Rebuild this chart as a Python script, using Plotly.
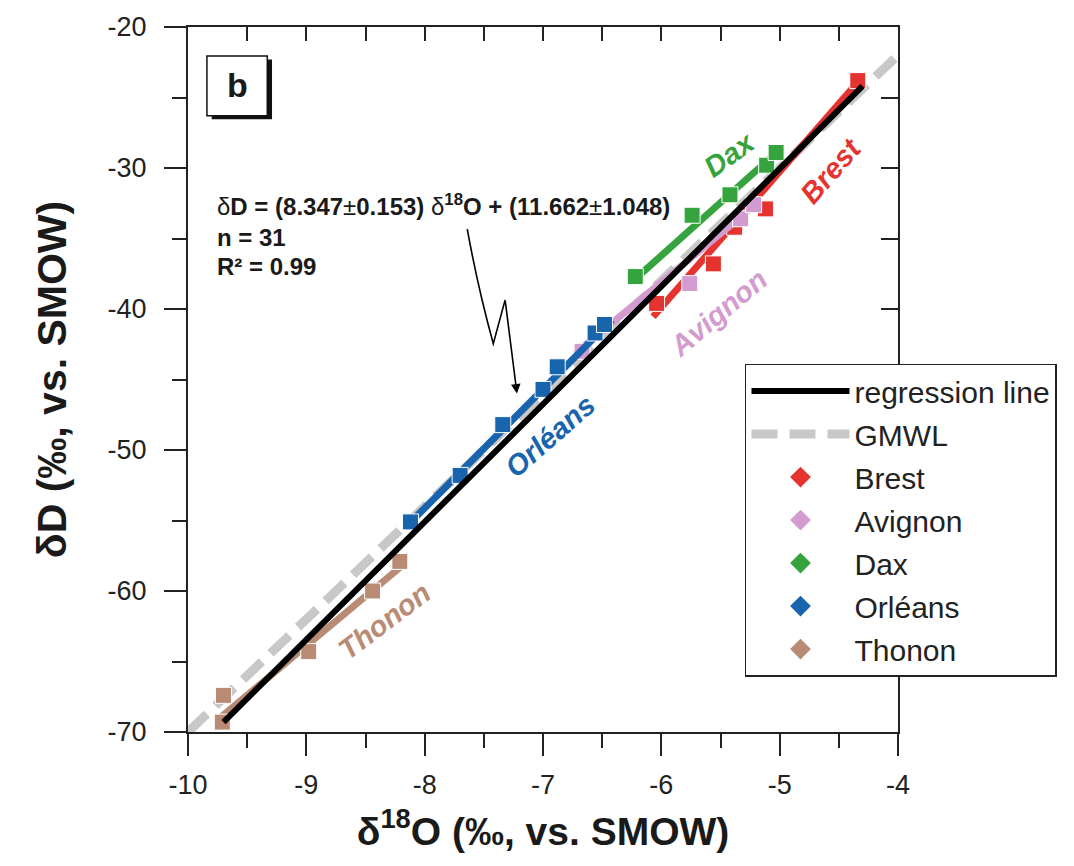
import plotly.graph_objects as go

# ---------------- data ----------------
brest_x = [-6.04, -5.56, -5.38, -5.12, -4.34]
brest_y = [-39.6, -36.8, -34.2, -32.9, -23.8]
brest_fit_x = [-6.07, -4.345]
brest_fit_y = [-40.55, -23.95]

avignon_x = [-6.67, -5.76, -5.33, -5.22]
avignon_y = [-43.0, -38.2, -33.6, -32.6]
avignon_fit_x = [-6.73, -5.18]
avignon_fit_y = [-43.16, -32.43]

dax_x = [-6.22, -5.74, -5.42, -5.11, -5.03]
dax_y = [-37.7, -33.35, -31.9, -29.8, -28.9]
dax_fit_x = [-6.22, -5.0]
dax_fit_y = [-37.87, -28.69]

orleans_x = [-8.12, -7.70, -7.34, -7.00, -6.88, -6.56, -6.48]
orleans_y = [-55.1, -51.8, -48.2, -45.7, -44.1, -41.7, -41.1]
orleans_fit_x = [-8.166, -6.416]
orleans_fit_y = [-55.52, -40.76]

thonon_x = [-9.71, -9.70, -8.98, -8.44, -8.21]
thonon_y = [-69.3, -67.4, -64.3, -60.0, -57.9]
thonon_fit_x = [-9.73, -8.19]
thonon_fit_y = [-69.01, -58.2]

regression_x = [-9.70, -4.30]
regression_y = [-69.3, -24.2]

gmwl_x = [-10.0, -4.0]
gmwl_y = [-70.0, -22.0]

sites = ["Brest", "Avignon", "Dax", "Orléans", "Thonon"]
site_colors = ["#e53430", "#d39bcf", "#36a43e", "#1864ad", "#b98b74"]

x_ticks = [-10, -9, -8, -7, -6, -5, -4]
x_tick_text = ["-10", "-9", "-8", "-7", "-6", "-5", "-4"]
y_ticks = [-70, -60, -50, -40, -30, -20]
y_tick_text = ["-70", "-60", "-50", "-40", "-30", "-20"]

FONT = "Arial, Liberation Sans, Helvetica, sans-serif"
COND = "Liberation Sans Narrow, Arial Narrow, Arial, Liberation Sans, sans-serif"

site_data = [
    (brest_x, brest_y, brest_fit_x, brest_fit_y),
    (avignon_x, avignon_y, avignon_fit_x, avignon_fit_y),
    (dax_x, dax_y, dax_fit_x, dax_fit_y),
    (orleans_x, orleans_y, orleans_fit_x, orleans_fit_y),
    (thonon_x, thonon_y, thonon_fit_x, thonon_fit_y),
]

fig = go.Figure()

# GMWL (bottom)
fig.add_trace(go.Scatter(
    x=gmwl_x, y=gmwl_y, mode="lines", name="GMWL",
    line=dict(color="#c8c8c8", width=9, dash="26px,12px"),
    legendgroup="g2", legendrank=2, hoverinfo="skip"))

# site fit lines and points
for i, (name, col) in enumerate(zip(sites, site_colors)):
    px, py, fx, fy = site_data[i]
    fig.add_trace(go.Scatter(
        x=fx, y=fy, mode="lines", line=dict(color=col, width=7),
        showlegend=False, hoverinfo="skip"))
    fig.add_trace(go.Scatter(
        x=px, y=py, mode="markers",
        marker=dict(symbol="square", size=16, color=col,
                    line=dict(color="white", width=1)),
        showlegend=False, hoverinfo="skip"))

# regression line (top)
fig.add_trace(go.Scatter(
    x=regression_x, y=regression_y, mode="lines", name="regression line",
    line=dict(color="black", width=6),
    legendgroup="g1", legendrank=1, hoverinfo="skip"))

# legend-only diamond entries
for i, (name, col) in enumerate(zip(sites, site_colors)):
    fig.add_trace(go.Scatter(
        x=[None], y=[None], mode="markers", name=name,
        marker=dict(symbol="diamond", size=20, color=col),
        legendgroup="s%d" % i, legendrank=3 + i, hoverinfo="skip"))

# helper trace for top/right mirror axes
fig.add_trace(go.Scatter(x=[None], y=[None], xaxis="x2", yaxis="y2",
                         showlegend=False, hoverinfo="skip"))

# ---------- annotations ----------
ann = []
ann.append(dict(x=-9.772, y=-32.64, xref="x", yref="y", xanchor="left", yanchor="middle",
                showarrow=False,
                text="δ<b>D = (8.347</b>±<b>0.153) </b>δ<b><sup>18</sup>O + (11.662</b>±<b>1.048)</b>",
                font=dict(family=FONT, size=24, color="#1a1a1a")))
ann.append(dict(x=-9.772, y=-34.9, xref="x", yref="y", xanchor="left", yanchor="middle",
                showarrow=False, text="<b>n = 31</b>",
                font=dict(family=FONT, size=24, color="#1a1a1a")))
ann.append(dict(x=-9.772, y=-37.0, xref="x", yref="y", xanchor="left", yanchor="middle",
                showarrow=False, text="<b>R² = 0.99</b>",
                font=dict(family=FONT, size=24, color="#1a1a1a")))

# arrow final segment
ann.append(dict(x=-7.22, y=-46.0, ax=-7.32, ay=-39.35, xref="x", yref="y",
                axref="x", ayref="y", showarrow=True, arrowhead=2, arrowsize=1.2,
                arrowwidth=1.6, arrowcolor="black", text=""))

# site labels
label_pos = [(-4.57, -30.2, -49), (-5.52, -40.3, -40), (-5.42, -29.0, -36),
             (-6.94, -49.0, -41), (-8.34, -62.1, -37)]
for (lx, ly, ang), name, col in zip(label_pos, sites, site_colors):
    ann.append(dict(x=lx, y=ly, xref="x", yref="y", showarrow=False,
                    text="<b><i>%s</i></b>" % name, textangle=ang,
                    font=dict(family=FONT, size=29, color=col)))

# panel letter
ann.append(dict(x=-9.58, y=-24.1, xref="x", yref="y", showarrow=False,
                text="<b>b</b>", font=dict(family=FONT, size=34, color="#1a1a1a")))

shapes = []
# arrow first zig-zag part
shapes.append(dict(type="path", xref="x", yref="y",
                   path="M -7.64,-34.34 Q -7.55,-38.5 -7.42,-42.46 L -7.32,-39.35",
                   line=dict(color="black", width=1.6)))
# panel box shadow + box
shapes.append(dict(type="rect", xref="x", yref="y", x0=-9.80, x1=-9.29, y0=-22.3, y1=-26.55,
                   fillcolor="#111111", line=dict(width=0)))
shapes.append(dict(type="rect", xref="x", yref="y", x0=-9.84, x1=-9.33, y0=-22.05, y1=-26.29,
                   fillcolor="white", line=dict(color="#111111", width=1.5)))

fig.update_layout(
    width=1074, height=866,
    margin=dict(l=188, r=176, t=24, b=134),
    paper_bgcolor="white", plot_bgcolor="white",
    font=dict(family=FONT, size=27, color="#222222"),
    annotations=ann, shapes=shapes,
    showlegend=True,
    legend=dict(x=0.7845, y=0.5226, xanchor="left", yanchor="top",
                bgcolor="white", bordercolor="#222222", borderwidth=1.5,
                font=dict(family=FONT, size=30, color="#222222"),
                itemwidth=98, tracegroupgap=1, traceorder="grouped"),
    xaxis=dict(range=[-10, -4], tickvals=x_ticks, ticktext=x_tick_text,
               ticks="outside", ticklen=22,
               tickwidth=1.5, tickcolor="#222222", showline=True, linecolor="#222222",
               linewidth=2, showgrid=False, zeroline=False,
               ticklabelstandoff=6,
               tickfont=dict(family=FONT, size=27, color="#222222"),
               minor=dict(dtick=0.5, ticks="outside", ticklen=14, tickwidth=1.5,
                          tickcolor="#222222", showgrid=False),
               title=dict(text="<b>δ<sup>18</sup>O (‰, vs. SMOW)</b>", standoff=18,
                          font=dict(family=COND, size=39, color="#1a1a1a"))),
    yaxis=dict(range=[-70, -20], tickvals=y_ticks, ticktext=y_tick_text,
               ticks="outside", ticklen=22,
               tickwidth=1.5, tickcolor="#222222", showline=True, linecolor="#222222",
               linewidth=2, showgrid=False, zeroline=False,
               ticklabelstandoff=12,
               tickfont=dict(family=FONT, size=27, color="#222222"),
               minor=dict(dtick=5, ticks="outside", ticklen=14, tickwidth=1.5,
                          tickcolor="#222222", showgrid=False),
               title=dict(text="<b>δD (‰, vs. SMOW)</b>", standoff=28,
                          font=dict(family=COND, size=41, color="#1a1a1a"))),
    xaxis2=dict(range=[-10, -4], overlaying="x", side="top", anchor="y",
                tickvals=[-9.5, -9, -8.5, -8, -7.5, -7, -6.5, -6, -5.5, -5, -4.5],
                ticks="inside", ticklen=14, tickwidth=1.5, tickcolor="#222222",
                showticklabels=False, showline=True, linecolor="#222222", linewidth=2,
                showgrid=False, zeroline=False),
    yaxis2=dict(range=[-70, -20], overlaying="y", side="right", anchor="x",
                tickvals=[-65, -60, -55, -50, -45, -40, -35, -30, -25],
                ticks="inside", ticklen=17, tickwidth=1.5, tickcolor="#222222",
                showticklabels=False, showline=True, linecolor="#222222", linewidth=2,
                showgrid=False, zeroline=False),
)

fig.write_html("out.html")
